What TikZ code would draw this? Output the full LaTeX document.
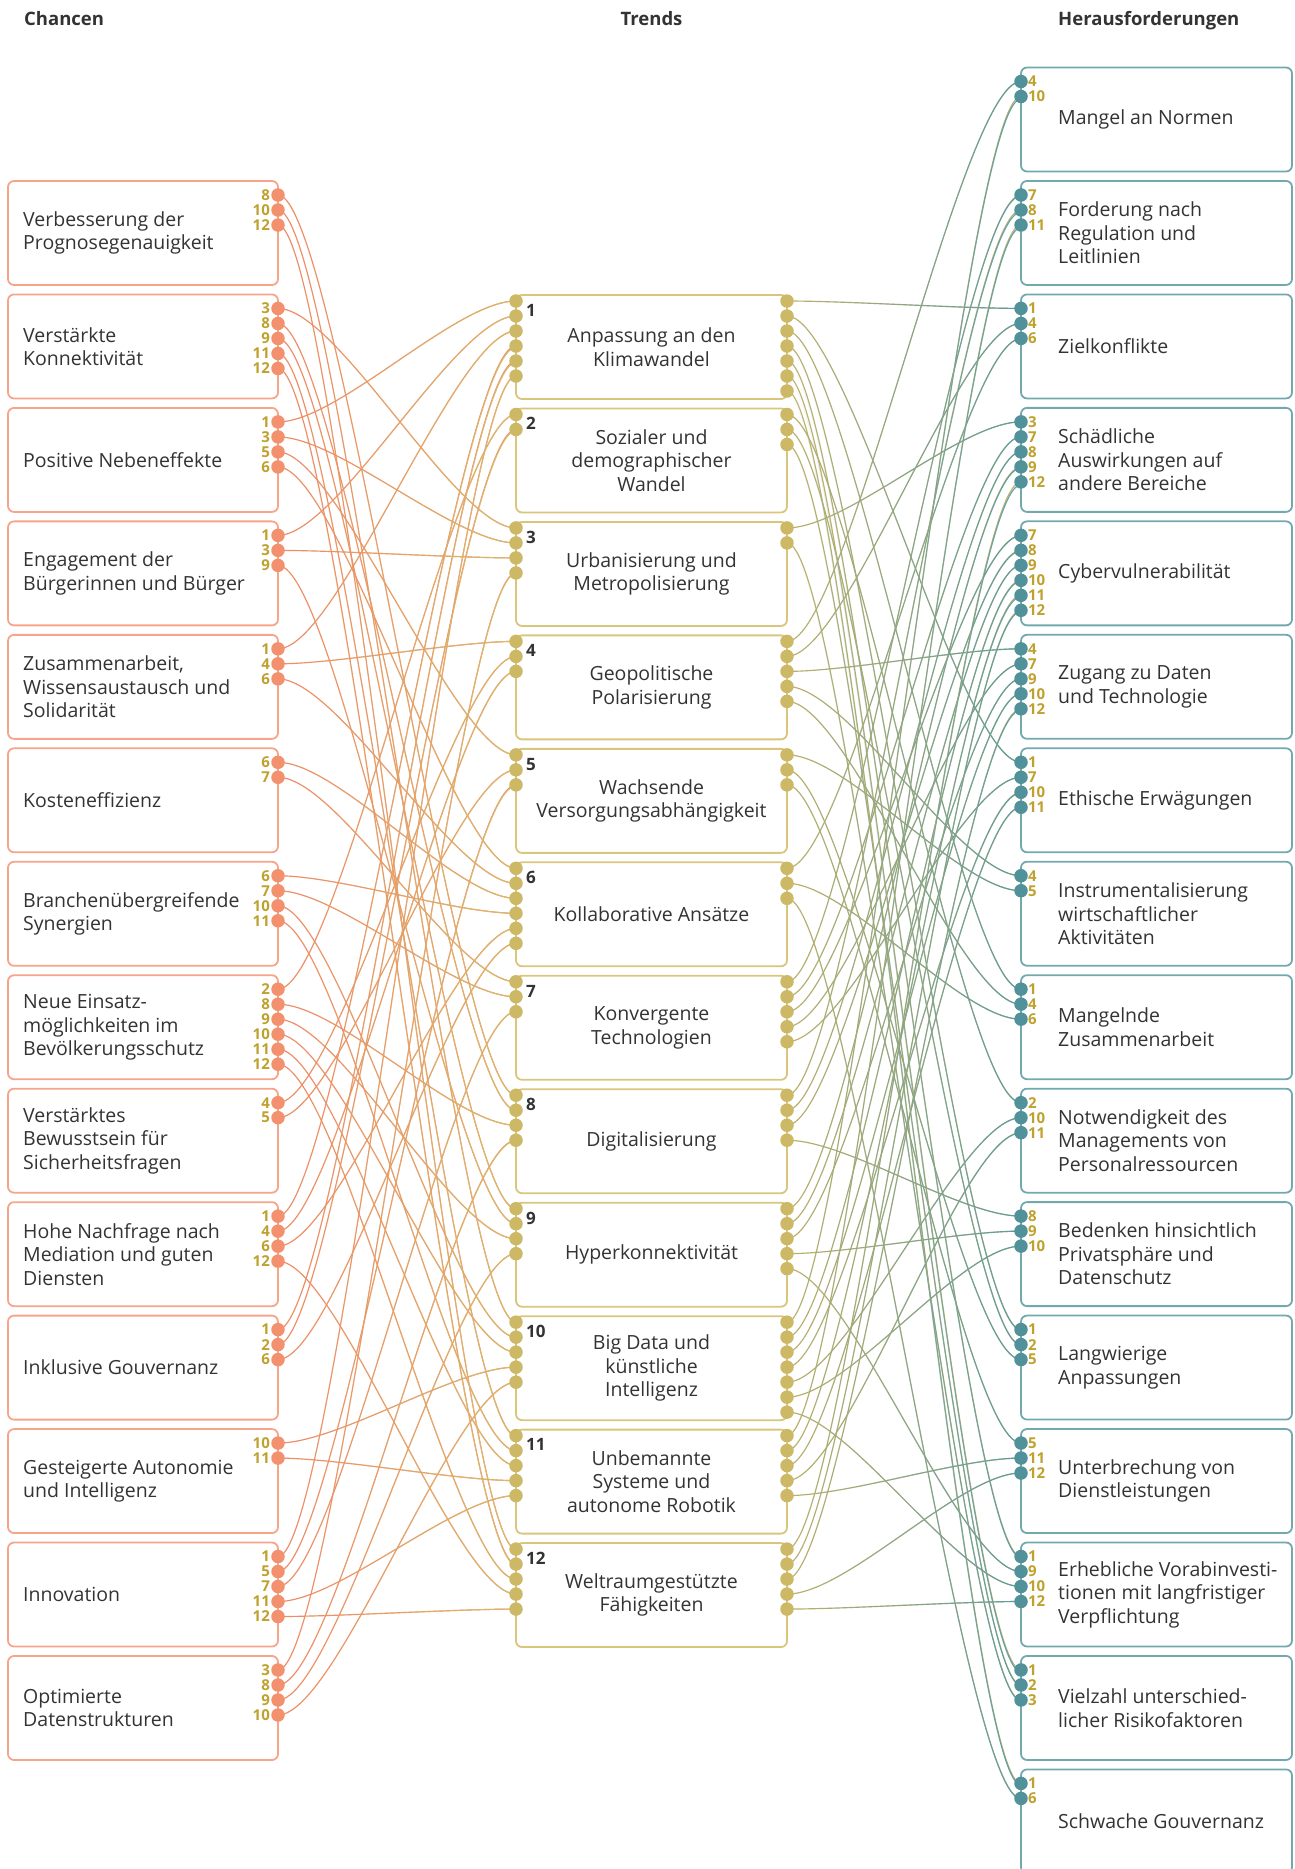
\documentclass[tikz,border=0pt]{standalone}
\usepackage{fontspec}
\setmainfont{Open Sans}
\usetikzlibrary{fadings}

\definecolor{chanceorange}{HTML}{F6A58B}
\definecolor{chancedotc}{HTML}{F3916F}
\definecolor{chancewire}{HTML}{F08A66}
\definecolor{trendgold}{HTML}{DAC57C}
\definecolor{trenddotc}{HTML}{CDB866}
\definecolor{trendwire}{HTML}{D8BC6E}
\definecolor{trendolive}{HTML}{BDB16C}
\definecolor{riskteal}{HTML}{72A9AE}
\definecolor{riskdotc}{HTML}{50919A}
\definecolor{riskwire}{HTML}{5C9CA2}
\definecolor{numgold}{HTML}{BFA12E}
\definecolor{ink}{HTML}{333333}

\pgfdeclarelayer{wires}
\pgfsetlayers{wires,main}

\newcommand\chancedata{%
1/{Verbesserung der\\Prognosegenauigkeit}/{8,10,12},
2/{Verstärkte\\Konnektivität}/{3,8,9,11,12},
3/{Positive Nebeneffekte}/{1,3,5,6},
4/{Engagement der\\Bürgerinnen und Bürger}/{1,3,9},
5/{Zusammenarbeit,\\Wissensaustausch und\\Solidarität}/{1,4,6},
6/{Kosteneffizienz}/{6,7},
7/{Branchenübergreifende\\Synergien}/{6,7,10,11},
8/{Neue Einsatz-\\möglichkeiten im\\Bevölkerungsschutz}/{2,8,9,10,11,12},
9/{Verstärktes\\Bewusstsein für\\Sicherheitsfragen}/{4,5},
10/{Hohe Nachfrage nach\\Mediation und guten\\Diensten}/{1,4,6,12},
11/{Inklusive Gouvernanz}/{1,2,6},
12/{Gesteigerte Autonomie\\und Intelligenz}/{10,11},
13/{Innovation}/{1,5,7,11,12},
14/{Optimierte\\Datenstrukturen}/{3,8,9,10}}

\newcommand\riskdata{%
1/{Mangel an Normen}/{4,10},
2/{Forderung nach\\Regulation und\\Leitlinien}/{7,8,11},
3/{Zielkonflikte}/{1,4,6},
4/{Schädliche\\Auswirkungen auf\\andere Bereiche}/{3,7,8,9,12},
5/{Cybervulnerabilität}/{7,8,9,10,11,12},
6/{Zugang zu Daten\\und Technologie}/{4,7,9,10,12},
7/{Ethische Erwägungen}/{1,7,10,11},
8/{Instrumentalisierung\\wirtschaftlicher\\Aktivitäten}/{4,5},
9/{Mangelnde\\Zusammenarbeit}/{1,4,6},
10/{Notwendigkeit des\\Managements von\\Personalressourcen}/{2,10,11},
11/{Bedenken hinsichtlich\\Privatsphäre und\\Datenschutz}/{8,9,10},
12/{Langwierige\\Anpassungen}/{1,2,5},
13/{Unterbrechung von\\Dienstleistungen}/{5,11,12},
14/{Erhebliche Vorabinvesti-\\tionen mit langfristiger\\Verpflichtung}/{1,9,10,12},
15/{Vielzahl unterschied-\\licher Risikofaktoren}/{1,2,3},
16/{Schwache Gouvernanz}/{1,6}}

\newcommand\trenddata{%
1/{Anpassung an den\\Klimawandel}/{3,4,5,10,11,13}/{3,7,9,12,14,15,16},
2/{Sozialer und\\demographischer\\Wandel}/{8,11}/{10,12,15},
3/{Urbanisierung und\\Metropolisierung}/{2,3,4,14}/{4,15},
4/{Geopolitische\\Polarisierung}/{5,9,10}/{1,3,6,8,9},
5/{Wachsende\\Versorgungsabhängigkeit}/{3,9,13}/{8,12,13},
6/{Kollaborative Ansätze}/{3,5,6,7,10,11}/{3,9,16},
7/{Konvergente\\Technologien}/{6,7,13}/{2,4,5,6,7},
8/{Digitalisierung}/{1,2,8,14}/{2,4,5,11},
9/{Hyperkonnektivität}/{2,4,8,14}/{4,5,6,11,14},
10/{Big Data und\\künstliche\\Intelligenz}/{1,7,8,12,14}/{1,5,6,7,10,11,14},
11/{Unbemannte\\Systeme und\\autonome Robotik}/{2,7,8,12,13}/{2,5,7,10,13},
12/{Weltraumgestützte\\Fähigkeiten}/{1,2,8,10,13}/{4,5,6,13,14}}

\tikzset{
  box/.style={rounded corners=6pt, line width=1.8pt, minimum height=104pt, inner sep=0pt, fill=white},
  chancebox/.style={box, draw=chanceorange, minimum width=270pt},
  trendbox/.style={box, draw=trendgold, minimum width=271pt, align=center, text=ink, font=\fontsize{19.5}{23.5}\selectfont},
  riskbox/.style={box, draw=riskteal, minimum width=271pt},
  boxtext/.style={anchor=west, align=left, inner sep=0pt, text=ink, font=\fontsize{19.5}{23.5}\selectfont},
  knob/.style={circle, inner sep=0pt, minimum size=13.5pt},
  num/.style={text=numgold, font=\fontsize{15}{15}\selectfont\bfseries, inner sep=0pt},
  chanceknob/.style={knob, fill=chancedotc, label={[num, label distance=1pt]left:#1}},
  riskknob/.style={knob, fill=riskdotc, label={[num, label distance=0pt]right:#1}},
  trendknob/.style={knob, fill=trenddotc},
  trendnum/.style={anchor=north west, inner sep=0pt, text=ink, font=\fontsize{17}{17}\selectfont\bfseries},
  head/.style={inner sep=0pt, text=ink, font=\fontsize{18.5}{20}\selectfont\bfseries},
  wire/.style={line width=1.15pt},
}

\begin{document}
\begin{tikzpicture}[x=1pt, y=-1pt]
\useasboundingbox (0,0) rectangle (1294,1869);

\node[head, anchor=base west] (chancen) at (24,25.5) {Chancen};
\node[head, anchor=base] (trends) at (651.5,25.5) {Trends};
\node[head, anchor=base west] (herausf) at (1058,25.5) {Herausforderungen};

\foreach \i/\txt/\ks in \chancedata {
  \pgfmathsetmacro\yc{181+(\i-1)*113.46+52}
  \node[chancebox] (c\i) at (143,\yc) {};
  \node[boxtext] (c\i-txt) at (23,\yc) {\txt};
  \foreach \k [count=\m] in \ks
    \node[chanceknob=\k] (c\i-\k) at (278,\yc-53+15*\m) {};
}

\foreach \j/\txt/\ks in \riskdata {
  \pgfmathsetmacro\yc{67.5+(\j-1)*113.46+52}
  \node[riskbox] (h\j) at (1156.5,\yc) {};
  \node[boxtext] (h\j-txt) at (1058,\yc) {\txt};
  \foreach \k [count=\m] in \ks
    \node[riskknob=\k] (h\j-\k) at (1021,\yc-53+15*\m) {};
}

\foreach \k/\txt/\ins/\outs in \trenddata {
  \pgfmathsetmacro\yc{295+(\k-1)*113.46+52}
  \node[trendbox] (t\k) at (651.5,\yc) {\txt};
  \node[trendnum] (t\k-nr) at (526,\yc-43) {\k};
  \foreach \i [count=\m] in \ins
    \node[trendknob] (t\k-c\i) at (516,\yc-61+15*\m) {};
  \foreach \j [count=\m] in \outs
    \node[trendknob] (t\k-h\j) at (787,\yc-61+15*\m) {};
}

\begin{pgfonlayer}{wires}
\foreach \k/\txt/\ins/\outs in \trenddata {
  \foreach \i in \ins {
    \draw[wire, chancewire] (c\i-\k.center) .. controls +(60,0) and +(-60,0) .. (t\k-c\i.center);
    \draw[wire, trendwire, path fading=west] (c\i-\k.center) .. controls +(60,0) and +(-60,0) .. (t\k-c\i.center);
  }
  \foreach \j in \outs {
    \draw[wire, trendolive] (t\k-h\j.center) .. controls +(60,0) and +(-60,0) .. (h\j-\k.center);
    \draw[wire, riskwire, path fading=west] (t\k-h\j.center) .. controls +(60,0) and +(-60,0) .. (h\j-\k.center);
  }
}
\end{pgfonlayer}
\end{tikzpicture}
\end{document}
